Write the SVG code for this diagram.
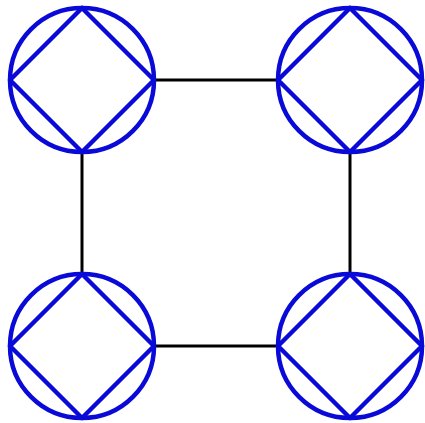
<svg xmlns="http://www.w3.org/2000/svg" width="425" height="423" viewBox="0 0 425 423">
<style>
.c{fill:none;stroke:#0a0ad8;stroke-width:4.5}
.e{stroke:#000;stroke-width:3}
</style>
<defs>
<g id="sym"><circle class="c" r="72"/><polygon class="c" points="0,-72 72,0 0,72 -72,0" stroke-linejoin="round"/></g>
</defs>
<rect width="425" height="423" fill="#fff"/>
<g id="connectors">
<line class="e" x1="154" y1="80" x2="278" y2="80"/>
<line class="e" x1="154" y1="346" x2="278" y2="346"/>
<line class="e" x1="82" y1="152" x2="82" y2="274"/>
<line class="e" x1="350" y1="152" x2="350" y2="274"/>
</g>
<g id="n1"><use href="#sym" x="82" y="80"/></g>
<g id="n2"><use href="#sym" x="350" y="80"/></g>
<g id="n3"><use href="#sym" x="82" y="346"/></g>
<g id="n4"><use href="#sym" x="350" y="346"/></g>
</svg>
